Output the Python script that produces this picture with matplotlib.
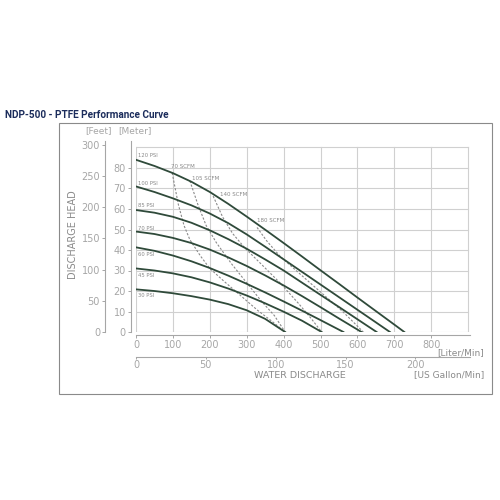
import matplotlib.pyplot as plt
from matplotlib.patches import Rectangle

# 圧力ごとの性能曲線 (流量 L/min, 揚程 m)
psi_labels = ["120 PSI", "100 PSI", "85 PSI", "70 PSI", "60 PSI", "45 PSI", "30 PSI"]
psi_flow = [
    [0, 50, 100, 150, 200, 250, 300, 350, 400, 450, 500, 550, 600, 650, 700, 727],
    [0, 50, 100, 150, 200, 250, 300, 350, 400, 450, 500, 550, 600, 650, 688],
    [0, 50, 100, 150, 200, 250, 300, 350, 400, 450, 500, 550, 600, 652],
    [0, 50, 100, 150, 200, 250, 300, 350, 400, 450, 500, 550, 611],
    [0, 50, 100, 150, 200, 250, 300, 350, 400, 450, 500, 562],
    [0, 50, 100, 150, 200, 250, 300, 350, 400, 450, 503],
    [0, 50, 100, 150, 200, 250, 300, 350, 404],
]
psi_head = [
    [84, 81, 77.5, 73.3, 68.3, 62.5, 56.3, 49.9, 43.4, 36.8, 30.1, 23.5, 16.8, 10.2, 3.6, 0],
    [71, 68.3, 65.2, 61.8, 57.8, 53.1, 47.6, 41.6, 35.45, 29.3, 23.15, 17, 10.85, 4.7, 0],
    [59.5, 58.2, 56.2, 53.3, 49.6, 45.3, 40.6, 35.4, 30, 24.05, 18.1, 12.2, 6.2, 0],
    [49, 47.8, 45.9, 43.4, 40.2, 36.4, 32.2, 27.6, 22.7, 17.5, 12.1, 6.6, 0],
    [41.3, 39.6, 37.3, 34.5, 31.2, 27.5, 23.5, 19.3, 14.9, 10.4, 5.8, 0],
    [31, 30, 28.6, 26.7, 24.2, 21.2, 17.8, 14, 9.9, 5.5, 0],
    [20.8, 20, 18.9, 17.5, 15.8, 13.6, 10.6, 6.4, 0],
]

# 空気消費量の曲線 (破線)
scfm_labels = ["70 SCFM", "105 SCFM", "140 SCFM", "180 SCFM"]
scfm_flow = [
    [98, 115, 130, 146, 175, 200, 240, 282, 330, 370, 404],
    [146, 168, 190, 218, 260, 300, 340, 375, 404],
    [209, 235, 262, 295, 340, 390, 440, 475, 503],
    [328, 354, 390, 440, 500, 560, 616],
]
scfm_head = [
    [77.6, 62, 52, 45, 37, 31, 24.5, 18, 10.5, 5, 0],
    [73.7, 62, 52, 43.5, 33, 24, 15, 8, 0],
    [66.3, 56, 48, 41, 33, 24, 14, 6.5, 0],
    [51, 44.5, 37, 29, 19.5, 10, 0],
]

meter_ticks = [0, 10, 20, 30, 40, 50, 60, 70, 80]
feet_ticks = [0, 50, 100, 150, 200, 250, 300]
lpm_ticks = [0, 100, 200, 300, 400, 500, 600, 700, 800]
gpm_ticks = [0, 50, 100, 150, 200]

M_TO_FT = 3.28084
GAL_TO_L = 3.785
Y_TOP = 93

GRAY = "#a6a6a6"
TXT = "#8a8a8a"
CURVE = "#2f4a3a"
GRID = "#d0d0d0"


def fpos(x, y):
    """ピクセル位置を図の座標に変換する関数"""
    return x / 500, 1 - y / 500


fig = plt.figure(figsize=(5, 5), dpi=100)
ax = fig.add_axes([136 / 500, 1 - 332 / 500, 334 / 500, Y_TOP * 2.05 / 500])
ax.set_xlim(0, 905)
ax.set_ylim(0, Y_TOP)

# グリッド
for x in range(0, 901, 100):
    ax.plot([x, x], [0, 90], color=GRID, lw=0.8, zorder=1)
for y in range(0, 91, 10):
    ax.plot([0, 900], [y, y], color=GRID, lw=0.8, zorder=1)

# 曲線
for fl, hd in zip(psi_flow, psi_head):
    ax.plot(fl, hd, color=CURVE, lw=1.3, zorder=3)
for fl, hd in zip(scfm_flow, scfm_head):
    ax.plot(fl, hd, color="#8a8a8a", lw=0.8, ls=(0, (2, 1.5)), zorder=2)

# ラベル
psi_dy = [2, 1.5, 2, 1.7, -3.3, -3.2, -3.2]
for lab, hd, dy in zip(psi_labels, psi_head, psi_dy):
    ax.text(5, hd[0] + dy, lab, fontsize=3.8, color="#888", va="center", ha="left")
scfm_off = [(-3, 3), (5, 1.3), (19, 1), (-1, 3.6)]
for lab, fl, hd, (dx, dy) in zip(scfm_labels, scfm_flow, scfm_head, scfm_off):
    ax.text(fl[0] + dx, hd[0] + dy, lab, fontsize=4, color="#888", va="center", ha="left")

# 軸 (オフセットはポイント単位)
tick_kw = dict(colors=GRAY, labelcolor=GRAY, labelsize=7, length=2.2, width=0.7, pad=1.4)
for s in ["top", "right"]:
    ax.spines[s].set_visible(False)
ax.spines["left"].set_position(("outward", 3.6))
ax.spines["bottom"].set_position(("outward", 2.2))
for s in ["left", "bottom"]:
    ax.spines[s].set_color(GRAY)
    ax.spines[s].set_linewidth(0.8)
ax.set_yticks(meter_ticks)
ax.set_xticks(lpm_ticks)
ax.tick_params(**tick_kw)

ax_ft = ax.twinx()
ax_ft.yaxis.set_ticks_position("left")
for s in ["top", "right", "bottom"]:
    ax_ft.spines[s].set_visible(False)
ax_ft.spines["left"].set_position(("outward", 22.3))
ax_ft.spines["left"].set_color(GRAY)
ax_ft.spines["left"].set_linewidth(0.8)
ax_ft.set_yticks(feet_ticks)
ax_ft.tick_params(**tick_kw)
ax_ft.set_ylim(0, Y_TOP * M_TO_FT)

sec = ax.secondary_xaxis(-25 / (Y_TOP * 2.05), functions=(lambda x: x / GAL_TO_L, lambda g: g * GAL_TO_L))
sec.set_xticks(gpm_ticks)
sec.spines["bottom"].set_color(GRAY)
sec.spines["bottom"].set_linewidth(0.8)
sec.tick_params(colors=GRAY, labelcolor=GRAY, labelsize=7, length=1.5, width=0.7, pad=0.8)

# テキスト
fig.text(*fpos(5, 115), "NDP-500 - PTFE Performance Curve", fontsize=7.2, fontweight="bold",
         fontstretch="condensed", family=["Liberation Sans Narrow", "Roboto"],
         color="#1c2d5c", va="center")
fig.text(*fpos(99, 131), "[Feet]", fontsize=6.5, color=GRAY, ha="center", va="center")
fig.text(*fpos(135, 131), "[Meter]", fontsize=6.5, color=GRAY, ha="center", va="center")
fig.text(*fpos(73, 235), "DISCHARGE HEAD", fontsize=7, color=TXT, rotation=90,
         ha="center", va="center")
fig.text(*fpos(484, 353), "[Liter/Min]", fontsize=6.5, color=TXT, ha="right", va="center")
fig.text(*fpos(300, 375), "WATER DISCHARGE", fontsize=6.8, color=TXT, ha="center", va="center")
fig.text(*fpos(484, 375), "[US Gallon/Min]", fontsize=6.5, color=TXT, ha="right", va="center")

# 枠
fig.add_artist(Rectangle(fpos(59, 394), 433 / 500, 271 / 500, transform=fig.transFigure,
                         fill=False, ec="#8a8a8a", lw=0.8))

fig.savefig("out.png", dpi=100)
